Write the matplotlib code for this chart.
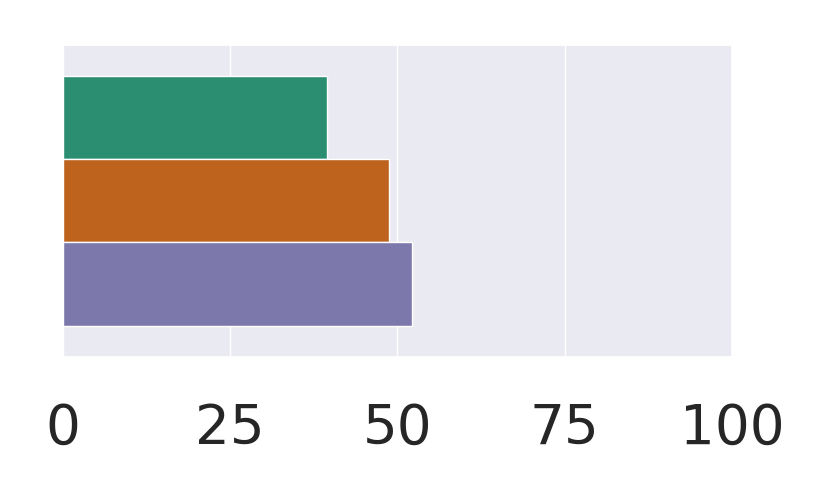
import matplotlib
matplotlib.use("Agg")
import matplotlib.pyplot as plt
import seaborn as sns
import pandas as pd

groups = ["A", "B", "C"]
values = [39.5, 48.8, 52.2]
category = ["x", "x", "x"]

sns.set_theme(style="darkgrid")
plt.rcParams['font.family'] = ['DejaVu Sans']

df = pd.DataFrame({"group": groups, "value": values, "cat": category})

fig = plt.figure(figsize=(8.3, 4.98), dpi=100)
ax = fig.add_axes([0.0759, 0.2831, 0.8060, 0.6275])
sns.barplot(data=df, x="value", y="cat", hue="group", palette="Dark2",
            orient="h", ax=ax, legend=False)
ax.set_xlim(0, 100)
ax.set_xticks([0, 25, 50, 75, 100])
ax.tick_params(axis="x", labelsize=39.5, pad=26)
ax.set_yticks([])
ax.set_xlabel("")
ax.set_ylabel("")
ax.grid(axis="y", visible=False)

fig.savefig("out.png", dpi=100)
